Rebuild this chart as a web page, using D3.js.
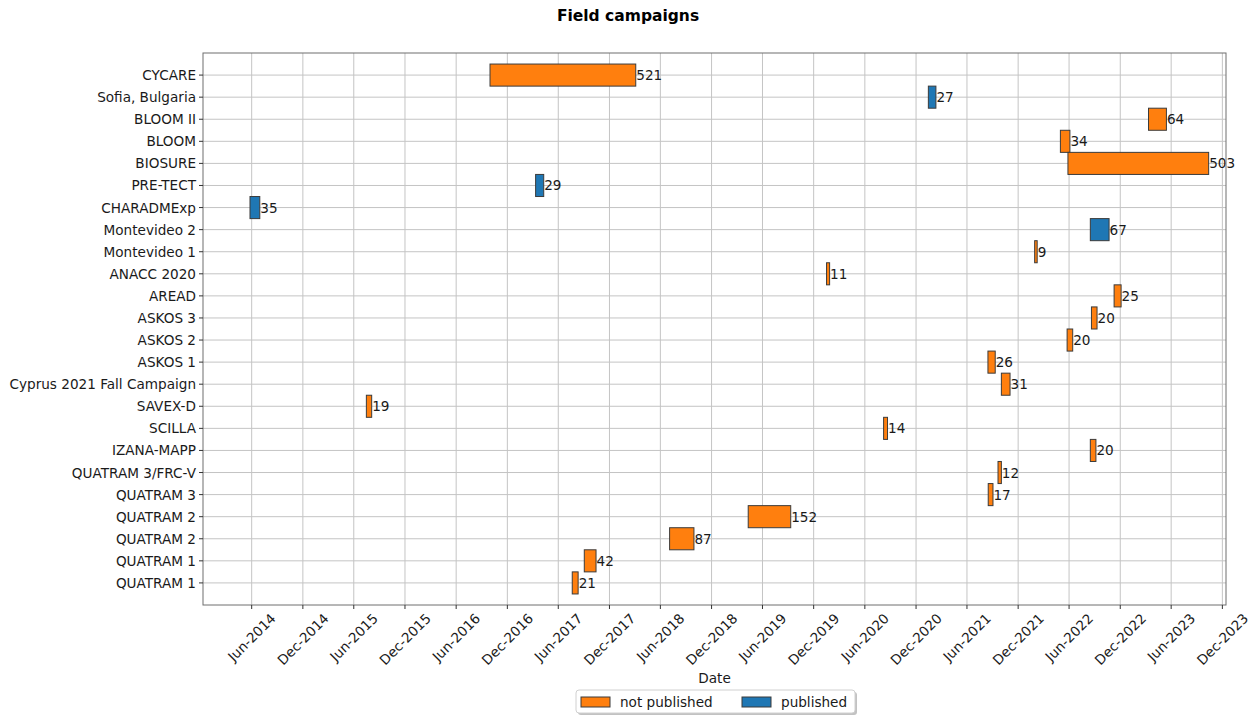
<!DOCTYPE html>
<html>
<head>
<meta charset="utf-8">
<script src="https://cdn.jsdelivr.net/npm/d3@7"></script>
<style>
  html, body { margin: 0; padding: 0; background: #fff; }
  svg { display: block; font-family: "DejaVu Sans", sans-serif; }
</style>
</head>
<body>
<svg id="chart" width="1257" height="715"></svg>
<script>
// Campaign names, top to bottom
const campaigns = [
  "CYCARE", "Sofia, Bulgaria", "BLOOM II", "BLOOM", "BIOSURE", "PRE-TECT",
  "CHARADMExp", "Montevideo 2", "Montevideo 1", "ANACC 2020", "AREAD",
  "ASKOS 3", "ASKOS 2", "ASKOS 1", "Cyprus 2021 Fall Campaign", "SAVEX-D",
  "SCILLA", "IZANA-MAPP", "QUATRAM 3/FRC-V", "QUATRAM 3", "QUATRAM 2",
  "QUATRAM 2", "QUATRAM 1", "QUATRAM 1"
];
// Campaign start dates
const startDates = [
  "2016-09-30", "2021-01-14", "2023-03-12", "2022-05-01", "2022-05-28", "2017-03-12",
  "2014-05-26", "2022-08-16", "2022-01-29", "2020-01-16", "2022-11-09",
  "2022-08-20", "2022-05-25", "2021-08-15", "2021-10-02", "2015-07-16",
  "2020-08-07", "2022-08-16", "2021-09-20", "2021-08-16", "2019-04-11",
  "2018-07-04", "2017-09-02", "2017-07-21"
];
// Campaign duration in days
const durations = [
  521, 27, 64, 34, 503, 29,
  35, 67, 9, 11, 25,
  20, 20, 26, 31, 19,
  14, 20, 12, 17, 152,
  87, 42, 21
];
// Publication status
const published = [
  false, true, false, false, false, true,
  true, true, false, false, false,
  false, false, false, false, false,
  false, false, false, false, false,
  false, false, false
];
// x tick dates
const tickDates = [
  "2014-06-01", "2014-12-01", "2015-06-01", "2015-12-01", "2016-06-01", "2016-12-01",
  "2017-06-01", "2017-12-01", "2018-06-01", "2018-12-01", "2019-06-01", "2019-12-01",
  "2020-06-01", "2020-12-01", "2021-06-01", "2021-12-01", "2022-06-01", "2022-12-01",
  "2023-06-01", "2023-12-01"
];
const statusLabels = ["not published", "published"];
const statusColors = ["#ff7f0e", "#1f77b4"];

const parse = d3.utcParse("%Y-%m-%d");
const DAY = 86400000;
const FS = 13.6;

const svg = d3.select("#chart");
const plotL = 203, plotR = 1226, plotT = 53, plotB = 605;

const x = d3.scaleUtc()
  .domain([parse("2013-12-09"), parse("2023-12-14")])
  .range([plotL, plotR]);

const y = d3.scaleLinear()
  .domain([-1, campaigns.length])
  .range([plotT, plotB]);

const rows = campaigns.map((name, i) => ({
  name, i,
  start: parse(startDates[i]),
  end: new Date(parse(startDates[i]).getTime() + durations[i] * DAY),
  days: durations[i],
  pub: published[i]
}));

const ticks = tickDates.map(parse);
const fmt = d3.utcFormat("%b-%Y");

// Grid
const grid = svg.append("g").attr("stroke", "#c4c4c4").attr("stroke-width", 1);
grid.selectAll("line.v").data(ticks).join("line")
  .attr("x1", d => x(d)).attr("x2", d => x(d))
  .attr("y1", plotT).attr("y2", plotB);
grid.selectAll("line.h").data(rows).join("line")
  .attr("x1", plotL).attr("x2", plotR)
  .attr("y1", d => y(d.i)).attr("y2", d => y(d.i));

// Bars
const rowH = y(1) - y(0);
svg.append("g").selectAll("rect").data(rows).join("rect")
  .attr("x", d => x(d.start))
  .attr("width", d => x(d.end) - x(d.start))
  .attr("y", d => y(d.i) - rowH / 2)
  .attr("height", rowH)
  .attr("fill", d => statusColors[d.pub ? 1 : 0])
  .attr("stroke", "#3b3b3b")
  .attr("stroke-width", 1);

// Duration labels
svg.append("g").selectAll("text").data(rows).join("text")
  .attr("x", d => x(d.end) + 0.5)
  .attr("y", d => y(d.i))
  .attr("dominant-baseline", "central")
  .attr("font-size", FS)
  .attr("fill", "#1a1a1a")
  .text(d => d.days);

// Frame
svg.append("rect")
  .attr("x", plotL).attr("y", plotT)
  .attr("width", plotR - plotL).attr("height", plotB - plotT)
  .attr("fill", "none").attr("stroke", "#6e6e6e").attr("stroke-width", 1);

// Y axis
const yAxis = svg.append("g");
yAxis.selectAll("line").data(rows).join("line")
  .attr("x1", plotL - 4).attr("x2", plotL)
  .attr("y1", d => y(d.i)).attr("y2", d => y(d.i))
  .attr("stroke", "#333");
yAxis.selectAll("text").data(rows).join("text")
  .attr("x", plotL - 7)
  .attr("y", d => y(d.i))
  .attr("text-anchor", "end")
  .attr("dominant-baseline", "central")
  .attr("font-size", FS)
  .attr("fill", "#1a1a1a")
  .text(d => d.name);

// X axis
const xAxis = svg.append("g");
xAxis.selectAll("line").data(ticks).join("line")
  .attr("x1", d => x(d)).attr("x2", d => x(d))
  .attr("y1", plotB).attr("y2", plotB + 4)
  .attr("stroke", "#333");
xAxis.selectAll("text").data(ticks).join("text")
  .attr("text-anchor", "middle")
  .attr("dominant-baseline", "central")
  .attr("font-size", FS)
  .attr("fill", "#1a1a1a")
  .text(d => fmt(d))
  .each(function (d) {
    const w = this.getComputedTextLength();
    const h = (w + FS) * Math.SQRT1_2;
    const cx = x(d), cy = plotB + 6 + h / 2;
    d3.select(this)
      .attr("x", 0).attr("y", 0)
      .attr("transform", `translate(${cx},${cy}) rotate(-45)`);
  });

svg.append("text")
  .attr("x", (plotL + plotR) / 2).attr("y", 683)
  .attr("text-anchor", "middle")
  .attr("font-size", FS)
  .attr("fill", "#1a1a1a")
  .text("Date");

// Title
svg.append("text")
  .attr("x", 628).attr("y", 21)
  .attr("text-anchor", "middle")
  .attr("font-size", 15.5)
  .attr("font-weight", "bold")
  .attr("fill", "#000")
  .text("Field campaigns");

// Legend
const lg = svg.append("g");
lg.append("rect")
  .attr("x", 578).attr("y", 692).attr("width", 279).attr("height", 23)
  .attr("rx", 3).attr("fill", "#9a9a9a").attr("opacity", 0.6);
lg.append("rect")
  .attr("x", 576).attr("y", 690).attr("width", 279).attr("height", 23)
  .attr("rx", 3).attr("fill", "#fff").attr("stroke", "#d0d0d0");
const legendX = [581, 742];
statusLabels.forEach((lab, k) => {
  lg.append("rect")
    .attr("x", legendX[k]).attr("y", 697)
    .attr("width", 29).attr("height", 10)
    .attr("fill", statusColors[k]).attr("stroke", "#3b3b3b");
  lg.append("text")
    .attr("x", legendX[k] + 39).attr("y", 702)
    .attr("dominant-baseline", "central")
    .attr("font-size", FS)
    .attr("fill", "#1a1a1a")
    .text(lab);
});
</script>
</body>
</html>
